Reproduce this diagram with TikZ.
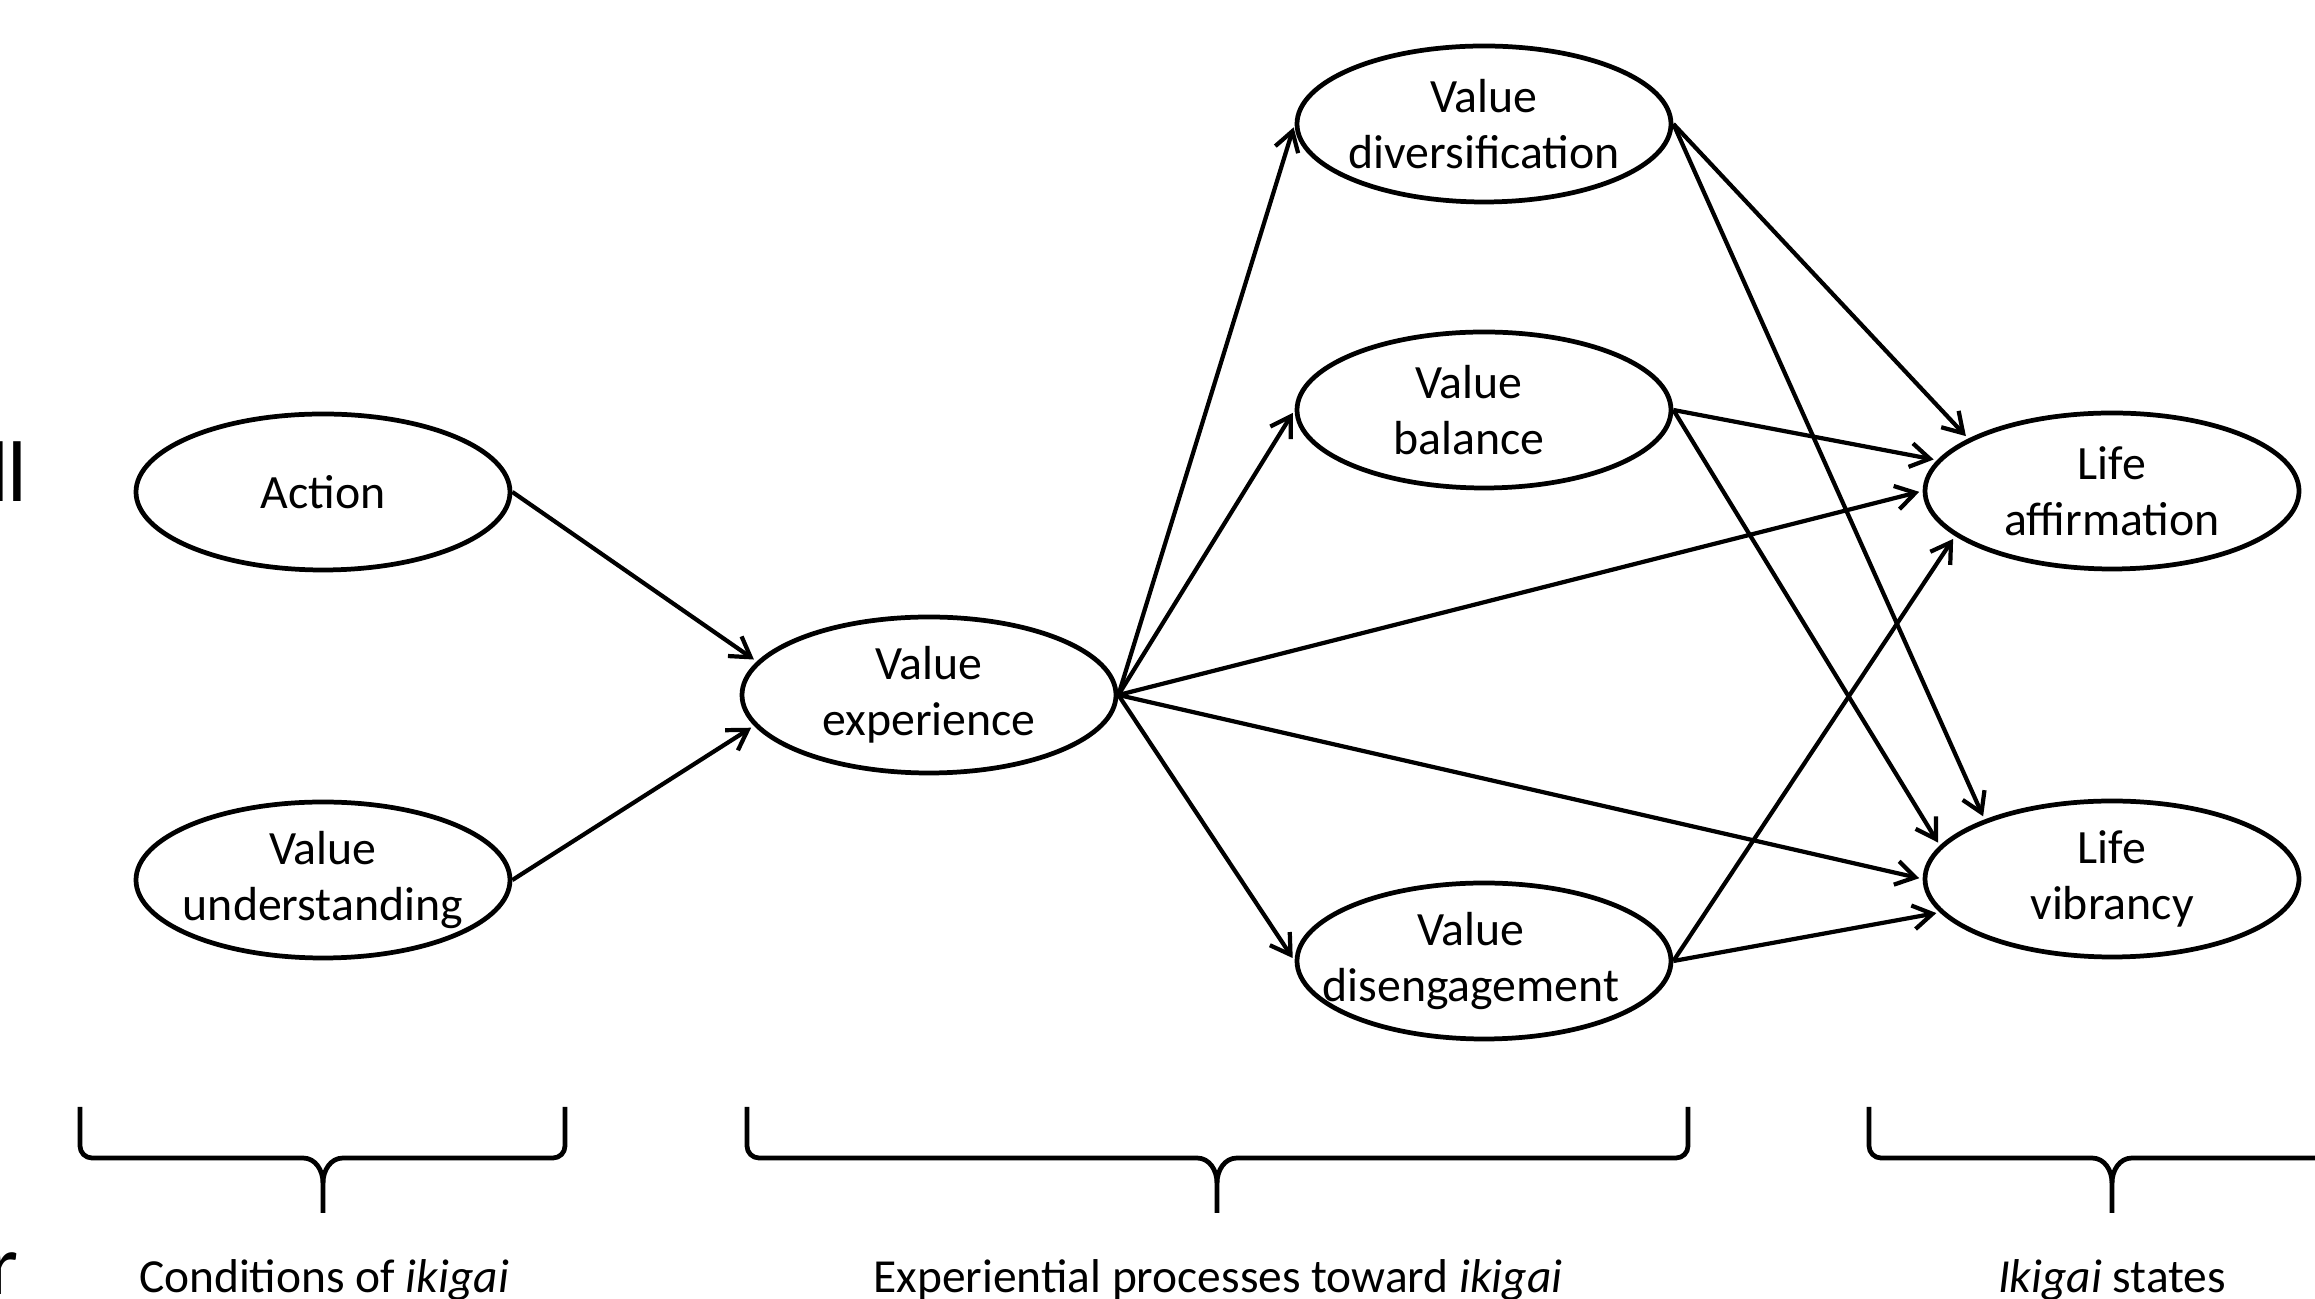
\documentclass[tikz,border=0pt]{standalone}
\usepackage{fontspec}
\setmainfont{Carlito}
\usetikzlibrary{shapes.geometric, arrows.meta}
\newcommand{\ikibrace}[3]{% left end, tip, right end
  \draw[brace] (#1,1.92) -- (#1,1.53) to[out=-90,in=180] ({#1+0.12},1.41)
        -- ({#2-0.2},1.41) to[out=0,in=90] (#2,1.16) -- (#2,0.86);
  \draw[brace] (#3,1.92) -- (#3,1.53) to[out=-90,in=0] ({#3-0.12},1.41)
        -- ({#2+0.2},1.41) to[out=180,in=90] (#2,1.16);
}

\begin{document}
\begin{tikzpicture}[
    shiftstate/.style 2 args={ellipse, draw, line width=1.35pt, minimum width=3.74cm,
                  minimum height=1.56cm, inner sep=0pt,
                  label={[lab, xshift=#2]center:{#1}}},
    state/.style={shiftstate={#1}{0mm}},
    lab/.style={align=center, inner sep=0pt, font=\fontsize{13.6}{16}\selectfont},
    link/.style={line width=1.2pt, shorten >=1pt,
                 -{Straight Barb[length=5.5pt,width=6.8pt,line width=1.2pt]}},
    brace/.style={line width=1.35pt, line join=round},
    caption/.style={anchor=base, font=\fontsize{13.5}{15}\selectfont}]
  \useasboundingbox (0,0) rectangle (23.15,12.99);

  % ---------- cut-off letters at the page edge ----------
  \node[anchor=base east, inner sep=0pt, font=\fontsize{24.5}{25}\selectfont] (edgell) at (0.28,7.97) {l\kern-0.6pt l};
  \node[anchor=base west, inner sep=0pt, font=\fontsize{24.5}{25}\selectfont] (edger) at (-0.12,0.04) {r};

  % ---------- states ----------
  \node[state={Action}] (act) at (3.23,8.07) {};
  \node[state={Value\\understanding}] (und) at (3.23,4.19) {};
  \node[state={Value\\experience}] (vexp) at (9.29,6.04) {};
  \node[state={Value\\diversification}] (vdiv) at (14.84,11.75) {};
  \node[shiftstate={Value\\balance}{-1.5mm}] (vbal) at (14.84,8.89) {};
  \node[shiftstate={Value\\disengagement}{-1.3mm}] (vdis) at (14.84,3.38) {};
  \node[state={Life\\affirmation}] (laff) at (21.12,8.08) {};
  \node[state={Life\\vibrancy}] (lvib) at (21.12,4.20) {};

  % ---------- paths ----------
  \draw[link] (act.east) -- (vexp.169);
  \draw[link] (und.east) -- (vexp.190);
  \draw[link] (vexp.east) -- (vdiv.west);
  \draw[link] (vexp.east) -- (vbal.west);
  \draw[link] (vexp.east) -- (vdis.west);
  \draw[link] (vexp.east) -- (laff.west);
  \draw[link] (vexp.east) -- (lvib.west);
  \draw[link] (vdiv.east) -- (laff.160);
  \draw[link] (vdiv.east) -- (lvib.155);
  \draw[link] (vbal.east) -- (laff.170);
  \draw[link] (vbal.east) -- (lvib.169);
  \draw[link] (vdis.east) -- (laff.196);
  \draw[link] (vdis.east) -- (lvib.191);

  % ---------- braces and captions ----------
  \ikibrace{0.80}{3.23}{5.65}
  \ikibrace{7.47}{12.17}{16.88}
  \ikibrace{18.69}{21.12}{23.56}
  \node[caption] (cond) at (3.24,0.06) {Conditions of \textit{ikigai}};
  \node[caption] (proc) at (12.18,0.06) {Experiential processes toward \textit{ikigai}};
  \node[caption] (stat) at (21.12,0.06) {\textit{Ikigai} states};

\end{tikzpicture}
\end{document}
